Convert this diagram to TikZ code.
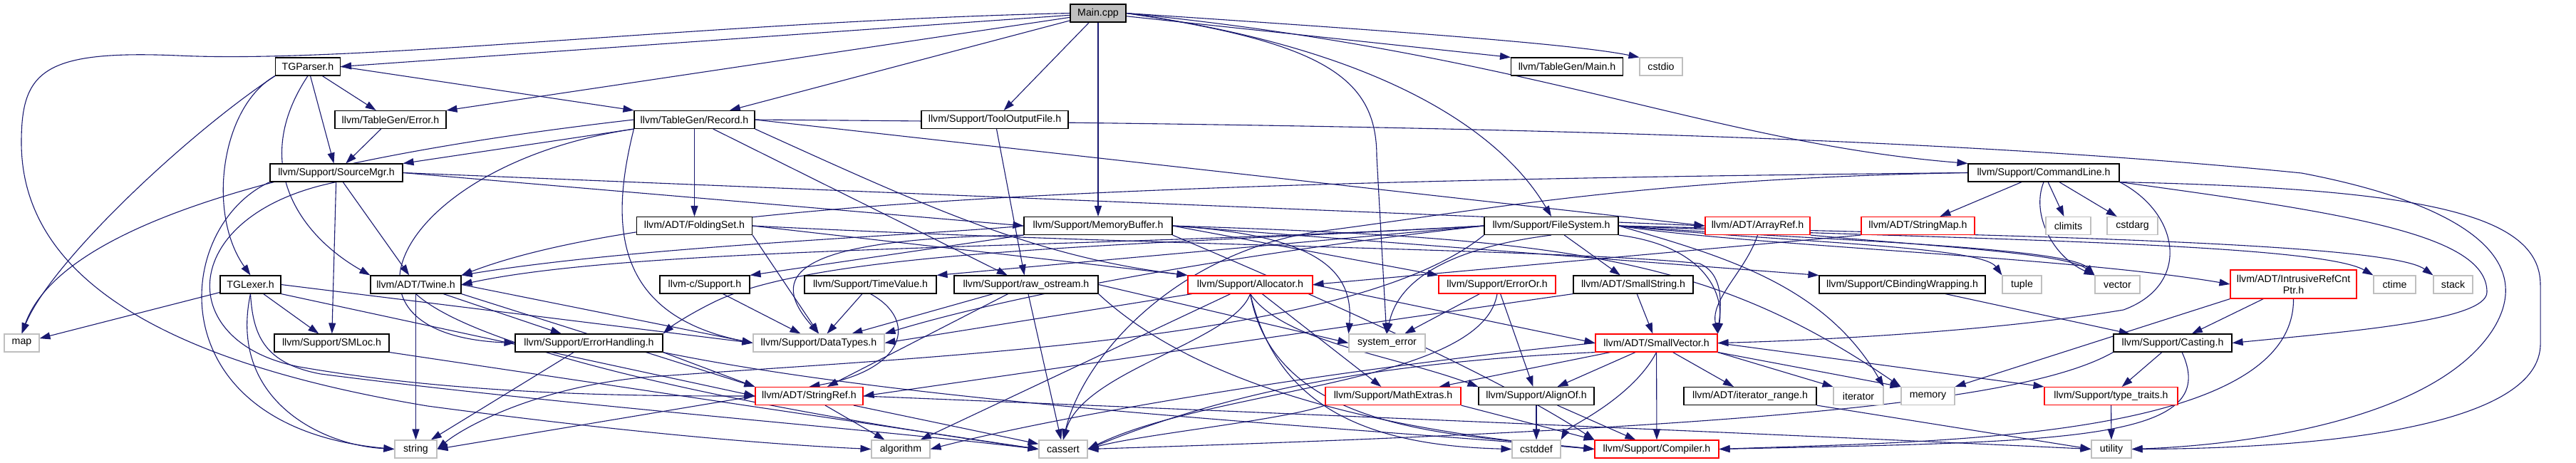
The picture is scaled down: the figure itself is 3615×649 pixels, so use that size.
\documentclass[tikz,border=0pt]{standalone}
\usepackage{fontspec}
\setmainfont{Liberation Sans}
\usetikzlibrary{arrows.meta}
\definecolor{eblue}{HTML}{191970}
\definecolor{lgray}{HTML}{BFBFBF}
\pgfdeclarelayer{background}
\pgfsetlayers{background,main}
\tikzset{
  base/.style={rectangle, fill=white, line width=1.1pt, minimum height=25pt, inner sep=0pt, font=\fontsize{14.2}{16}\selectfont, text=black},
  nb/.style={base, draw=black},
  nr/.style={base, draw=red},
  ng/.style={base, draw=lgray},
  ed/.style={draw=eblue, line width=1.1pt, -{Triangle[length=15pt,width=10pt]}},
}
\begin{document}
\begin{tikzpicture}[x=1pt,y=-1pt]
\useasboundingbox (0,0) rectangle (3615,649);
% ---------- nodes ----------
\node[nb, fill=lgray, minimum width=78pt] (main) at (1541,18.5) {Main.cpp};
\node[nb, minimum width=91pt] (tgparser) at (432,93.5) {TGParser.h};
\node[nb, minimum width=157pt] (tgmain) at (2199,93.5) {llvm/TableGen/Main.h};
\node[ng, minimum width=60pt] (cstdio) at (2331,93.5) {cstdio};
\node[nb, minimum width=156pt] (tgerror) at (548,168) {llvm/TableGen/Error.h};
\node[nb, minimum width=169pt] (record) at (974.5,168) {llvm/TableGen/Record.h};
\node[nb, minimum width=206pt] (toolout) at (1396,168) {llvm/Support/ToolOutputFile.h};
\node[nb, minimum width=186pt] (srcmgr) at (472,242.5) {llvm/Support/SourceMgr.h};
\node[nb, minimum width=212pt] (cmdline) at (2868,242.5) {llvm/Support/CommandLine.h};
\node[nb, minimum width=162pt] (folding) at (974.5,317) {llvm/ADT/FoldingSet.h};
\node[nb, minimum width=208pt] (membuf) at (1541,317) {llvm/Support/MemoryBuffer.h};
\node[nb, minimum width=188pt] (filesys) at (2177,317) {llvm/Support/FileSystem.h};
\node[nr, minimum width=147pt] (arrayref) at (2466.5,317) {llvm/ADT/ArrayRef.h};
\node[nr, minimum width=159pt] (strmap) at (2691.5,317) {llvm/ADT/StringMap.h};
\node[ng, minimum width=63pt] (climits) at (2902.5,317) {climits};
\node[ng, minimum width=71pt] (cstdarg) at (2992.5,317) {cstdarg};
\node[nb, minimum width=85pt] (tglexer) at (351.5,399.5) {TGLexer.h};
\node[nb, minimum width=127pt] (twine) at (583.5,399.5) {llvm/ADT/Twine.h};
\node[nb, minimum width=126pt] (csupport) at (989,399.5) {llvm-c/Support.h};
\node[nb, minimum width=185pt] (timeval) at (1221.5,399.5) {llvm/Support/TimeValue.h};
\node[nb, minimum width=202pt] (rawos) at (1440,399.5) {llvm/Support/raw\_ostream.h};
\node[nr, minimum width=175pt] (alloc) at (1754.5,399.5) {llvm/Support/Allocator.h};
\node[nr, minimum width=164pt] (erroror) at (2101,399.5) {llvm/Support/ErrorOr.h};
\node[nb, minimum width=168pt] (smallstr) at (2292,399.5) {llvm/ADT/SmallString.h};
\node[nb, minimum width=233pt] (cbind) at (2669.5,399.5) {llvm/Support/CBindingWrapping.h};
\node[ng, minimum width=55pt] (tuple) at (2837.5,399.5) {tuple};
\node[ng, minimum width=63pt] (vector) at (2971.5,399.5) {vector};
\node[nr, minimum width=177pt, minimum height=40pt, align=center] (intrusive) at (3218.5,399) {llvm/ADT/IntrusiveRefCnt\\Ptr.h};
\node[ng, minimum width=59pt] (ctime) at (3360.5,399.5) {ctime};
\node[ng, minimum width=55pt] (stack) at (3442.5,399.5) {stack};
\node[ng, minimum width=49pt] (map) at (30.5,481.5) {map};
\node[nb, minimum width=161pt] (smloc) at (465.5,481.5) {llvm/Support/SMLoc.h};
\node[nb, minimum width=207pt] (errhand) at (826.5,481.5) {llvm/Support/ErrorHandling.h};
\node[ng, minimum width=184pt] (datatypes) at (1149,481.5) {llvm/Support/DataTypes.h};
\node[ng, minimum width=107pt] (syserr) at (1946.5,481.5) {system\_error};
\node[nr, minimum width=171pt] (smallvec) at (2324.5,481.5) {llvm/ADT/SmallVector.h};
\node[nb, minimum width=166pt] (casting) at (3049,481.5) {llvm/Support/Casting.h};
\node[nr, minimum width=151pt] (stringref) at (1135.5,556) {llvm/ADT/StringRef.h};
\node[nr, minimum width=190pt] (mathext) at (1955,556) {llvm/Support/MathExtras.h};
\node[nb, minimum width=162pt] (alignof) at (2156,556) {llvm/Support/AlignOf.h};
\node[nb, minimum width=186pt] (iterrange) at (2456,556) {llvm/ADT/iterator\_range.h};
\node[ng, minimum width=70pt] (iterator) at (2608,556) {iterator};
\node[ng, minimum width=75pt] (memory) at (2705.5,556) {memory};
\node[nr, minimum width=187pt] (typetraits) at (2962.5,556) {llvm/Support/type\_traits.h};
\node[ng, minimum width=59pt] (string) at (583.5,630.5) {string};
\node[ng, minimum width=82pt] (algorithm) at (1264,630.5) {algorithm};
\node[ng, minimum width=68pt] (cassert) at (1492,630.5) {cassert};
\node[ng, minimum width=68pt] (cstddef) at (2156,630.5) {cstddef};
\node[nr, minimum width=174pt] (compiler) at (2325,630.5) {llvm/Support/Compiler.h};
\node[ng, minimum width=56pt] (utility) at (2963,630.5) {utility};
% ---------- edges ----------
\begin{pgfonlayer}{background}
\fill[white] (0,0) rectangle (3615,649);
% Main.cpp
\draw[ed] (main) -- (tgparser.east);
\draw[ed] (main) -- (tgerror.north east);
\draw[ed] (main) -- (record);
\draw[ed] (main) -- (toolout);
\draw[ed] (main) -- (membuf);
\draw[ed] (main) -- (tgmain.north west);
\draw[ed] (main.east) .. controls (1900,40) and (2200,60) .. (cstdio.north west);
\draw[ed] (main.east) .. controls (1950,70) and (2110,190) .. (filesys.north);
\draw[ed] (main.east) .. controls (2150,75) and (2400,200) .. (cmdline.north west);
\draw[ed] (main.east) .. controls (1860,60) and (1932,110) .. (1932,220) -- (syserr);
\draw[ed] (main.west) .. controls (1000,30) and (500,90) .. (250,78) .. controls (60,70) and (30,100) .. (30,200) .. controls (30,420) and (300,520) .. (600,570) .. controls (900,610) and (1100,625) .. (algorithm.west);
% TGParser.h
\draw[ed] (tgparser.south west) .. controls (310,150) and (290,300) .. (tglexer.north);
\draw[ed] (tgparser.south west) .. controls (260,190) and (70,370) .. (map.north);
\draw[ed] (tgparser.south) .. controls (350,230) and (420,330) .. (twine.north west);
\draw[ed] (tgparser) -- (srcmgr);
\draw[ed] (tgparser) -- (tgerror);
\draw[ed] (tgparser.east) -- (record.north west);
\draw[ed] (tgerror) -- (srcmgr);
% Record.h
\draw[ed] (record.south west) -- (srcmgr.north east);
\draw[ed] (record.west) .. controls (350,230) and (80,330) .. (map.north);
\draw[ed] (record) -- (folding);
\draw[ed] (record.south west) .. controls (560,230) and (440,470) .. (errhand.west);
\draw[ed] (record) -- (rawos);
\draw[ed] (record.south east) .. controls (1300,290) and (1450,360) .. (alloc.north west);
\draw[ed] (record.south west) .. controls (860,300) and (850,440) .. (datatypes.west);
\draw[ed] (record.east) -- (arrayref.west);
\draw[ed] (record.east) .. controls (2000,175) and (2700,190) .. (3230,243) .. controls (3450,285) and (3560,360) .. (3500,460) .. controls (3420,590) and (3150,625) .. (utility.east);
\draw[ed] (toolout) -- (rawos);
% SourceMgr.h
\draw[ed] (srcmgr) -- (smloc);
\draw[ed] (srcmgr.south west) .. controls (240,320) and (220,600) .. (string.west);
\draw[ed] (srcmgr.south) .. controls (250,300) and (240,480) .. (420,515) .. controls (650,555) and (900,556) .. (stringref.west);
\draw[ed] (srcmgr) -- (twine);
\draw[ed] (srcmgr.east) -- (arrayref.west);
\draw[ed] (srcmgr.east) -- (membuf.west);
% CommandLine.h
\draw[ed] (cmdline) -- (strmap);
\draw[ed] (cmdline) -- (climits);
\draw[ed] (cmdline) -- (cstdarg);
\draw[ed] (cmdline.south) .. controls (2850,300) and (2880,360) .. (vector.north west);
\draw[ed] (cmdline.south east) .. controls (3060,300) and (3075,400) .. (2980,435) .. controls (2800,465) and (2550,478) .. (smallvec.east);
\draw[ed] (cmdline.south east) .. controls (3300,300) and (3490,330) .. (3490,410) .. controls (3490,450) and (3300,465) .. (casting.east);
\draw[ed] (cmdline.south east) .. controls (3400,265) and (3565,300) .. (3565,400) -- (3565,480) .. controls (3570,610) and (3200,630) .. (utility.east);
\draw[ed] (cmdline.west) .. controls (1500,255) and (900,290) .. (twine.north east);
\draw[ed] (cmdline.west) .. controls (2300,250) and (2050,300) .. (1850,325) .. controls (1650,355) and (1520,500) .. (cassert.north);
% FileSystem.h
\draw[ed] (filesys.east) .. controls (2450,345) and (2900,360) .. (intrusive.west);
\draw[ed] (filesys) -- (smallstr);
\draw[ed] (filesys.south east) .. controls (2390,345) and (2420,410) .. (smallvec.north east);
\draw[ed] (filesys.west) .. controls (1500,350) and (900,345) .. (twine.east);
\draw[ed] (filesys.west) .. controls (1700,360) and (1400,420) .. (datatypes.north east);
\draw[ed] (filesys.west) .. controls (1600,345) and (1150,350) .. (1000,425) .. controls (960,445) and (940,460) .. (errhand.north east);
\draw[ed] (filesys.west) -- (timeval.north east);
\draw[ed] (filesys.east) .. controls (2700,335) and (3250,340) .. (ctime.north west);
\draw[ed] (filesys.east) .. controls (2800,330) and (3350,340) .. (stack.north west);
\draw[ed] (filesys.east) .. controls (2420,360) and (2560,400) .. (iterator.north east);
\draw[ed] (filesys.south west) .. controls (1900,480) and (1300,500) .. (900,530) .. controls (750,545) and (650,600) .. (string.east);
\draw[ed] (filesys.south) .. controls (2020,350) and (1960,400) .. (syserr.north);
\draw[ed] (filesys.east) .. controls (2500,340) and (2780,345) .. (tuple.north west);
\draw[ed] (filesys.east) .. controls (2500,335) and (2900,345) .. (vector.north west);
% MemoryBuffer.h
\draw[ed] (membuf.west) .. controls (1300,330) and (900,345) .. (twine.north east);
\draw[ed] (membuf.south west) -- (csupport.north east);
\draw[ed] (membuf.east) -- (cbind.north west);
\draw[ed] (membuf.east) -- (erroror.north west);
\draw[ed] (membuf.east) .. controls (1850,330) and (1900,380) .. (syserr.north west);
\draw[ed] (membuf.east) .. controls (2200,335) and (2400,360) .. (memory.north west);
\draw[ed] (membuf.south east) .. controls (2000,480) and (2150,560) .. (compiler.north west);
\draw[ed] (membuf.south west) .. controls (1100,335) and (1080,390) .. (datatypes.north);
% ArrayRef.h, StringMap.h
\draw[ed] (arrayref.south) .. controls (2450,380) and (2400,420) .. (smallvec.north east);
\draw[ed] (arrayref.south east) .. controls (2700,345) and (2900,355) .. (vector.north west);
\draw[ed] (strmap.south west) -- (alloc.east);
% TGLexer.h
\draw[ed] (tglexer) -- (map);
\draw[ed] (tglexer) -- (smloc);
\draw[ed] (tglexer.south) .. controls (320,560) and (450,625) .. (string.west);
\draw[ed] (tglexer.east) -- (datatypes.west);
\draw[ed] (tglexer.south east) -- (stringref.west);
\draw[ed] (tglexer.south) .. controls (355,470) and (370,510) .. (450,525) .. controls (800,570) and (1200,600) .. (cassert.west);
% Twine.h
\draw[ed] (twine) -- (string);
\draw[ed] (twine) -- (errhand);
\draw[ed] (twine.east) -- (datatypes.west);
\draw[ed] (twine.south east) -- (stringref.north west);
\draw[ed] (twine.south) .. controls (680,500) and (1100,580) .. (cassert.west);
% llvm-c, TimeValue, raw_ostream
\draw[ed] (csupport) -- (datatypes);
\draw[ed] (timeval) -- (datatypes);
\draw[ed] (timeval.south) .. controls (1290,450) and (1270,520) .. (stringref.north);
\draw[ed] (rawos) -- (datatypes);
\draw[ed] (rawos) -- (stringref);
\draw[ed] (rawos) -- (cassert);
\draw[ed] (rawos.east) -- (syserr.west);
\draw[ed] (rawos.south east) .. controls (1700,560) and (2000,610) .. (compiler.west);
% Allocator.h
\draw[ed] (alloc.east) -- (smallvec.west);
\draw[ed] (alloc) -- (datatypes.east);
\draw[ed] (alloc) -- (algorithm);
\draw[ed] (alloc.south) .. controls (1730,480) and (1520,520) .. (cassert.north);
\draw[ed] (alloc) -- (mathext);
\draw[ed] (alloc.south) .. controls (1800,480) and (1960,500) .. (alignof.north west);
\draw[ed] (alloc.south) .. controls (1790,560) and (1900,625) .. (cstddef.west);
\draw[ed] (alloc.south) .. controls (1790,610) and (2050,610) .. (compiler.west);
% ErrorOr.h, SmallString.h, CBindingWrapping.h
\draw[ed] (erroror) -- (syserr);
\draw[ed] (erroror) -- (alignof);
\draw[ed] (erroror.south) .. controls (2080,540) and (1700,545) .. (cassert.east);
\draw[ed] (smallstr) -- (smallvec);
\draw[ed] (smallstr.south west) -- (stringref.east);
\draw[ed] (cbind) -- (casting);
% IntrusiveRefCntPtr.h, Casting.h, type_traits.h
\draw[ed] (intrusive) -- (casting);
\draw[ed] (intrusive.south west) -- (memory.north east);
\draw[ed] (intrusive.south) .. controls (3220,620) and (2700,620) .. (compiler.east);
\draw[ed] (casting) -- (typetraits);
\draw[ed] (casting.-45) .. controls (3120,620) and (2900,620) .. (compiler.east);
\draw[ed] (casting.south west) .. controls (2850,560) and (2500,600) .. (cassert.east);
\draw[ed] (typetraits) -- (utility);
% SmallVector.h
\draw[ed] (smallvec) -- (alignof);
\draw[ed] (smallvec) -- (compiler);
\draw[ed] (smallvec) -- (mathext);
\draw[ed] (smallvec.south) .. controls (2290,560) and (2200,600) .. (cstddef.north east);
\draw[ed] (smallvec) -- (iterrange);
\draw[ed] (smallvec.south east) -- (iterator.north west);
\draw[ed] (smallvec.south east) -- (memory.north west);
\draw[ed] (smallvec.east) -- (typetraits.north west);
\draw[ed] (smallvec.west) .. controls (1900,515) and (1500,580) .. (algorithm.east);
\draw[ed] (smallvec.south west) .. controls (1900,510) and (1700,560) .. (cassert.east);
% iterator_range, MathExtras, AlignOf
\draw[ed] (iterrange.south east) -- (utility.west);
\draw[ed] (mathext.south east) -- (compiler.north west);
\draw[ed] (mathext.south west) .. controls (1800,590) and (1600,610) .. (cassert.east);
\draw[ed] (alignof) -- (cstddef);
\draw[ed] (alignof) -- (compiler);
% StringRef.h, ErrorHandling.h, SMLoc.h
\draw[ed] (stringref.west) -- (string.east);
\draw[ed] (stringref) -- (algorithm);
\draw[ed] (stringref) -- (cassert);
\draw[ed] (stringref.east) .. controls (1800,580) and (2500,610) .. (utility.west);
\draw[ed] (errhand) -- (string);
\draw[ed] (errhand.south east) -- (stringref.north west);
\draw[ed] (errhand.south east) .. controls (1300,570) and (1900,600) .. (compiler.west);
\draw[ed] (smloc.south east) -- (cassert.west);
% FoldingSet.h
\draw[ed] (folding.east) -- (alloc.north west);
\draw[ed] (folding.south east) -- (datatypes.north);
\draw[ed] (folding.east) .. controls (1600,345) and (2200,350) .. (2385,370) .. controls (2420,385) and (2415,430) .. (smallvec.north east);
\end{pgfonlayer}
\end{tikzpicture}
\end{document}
